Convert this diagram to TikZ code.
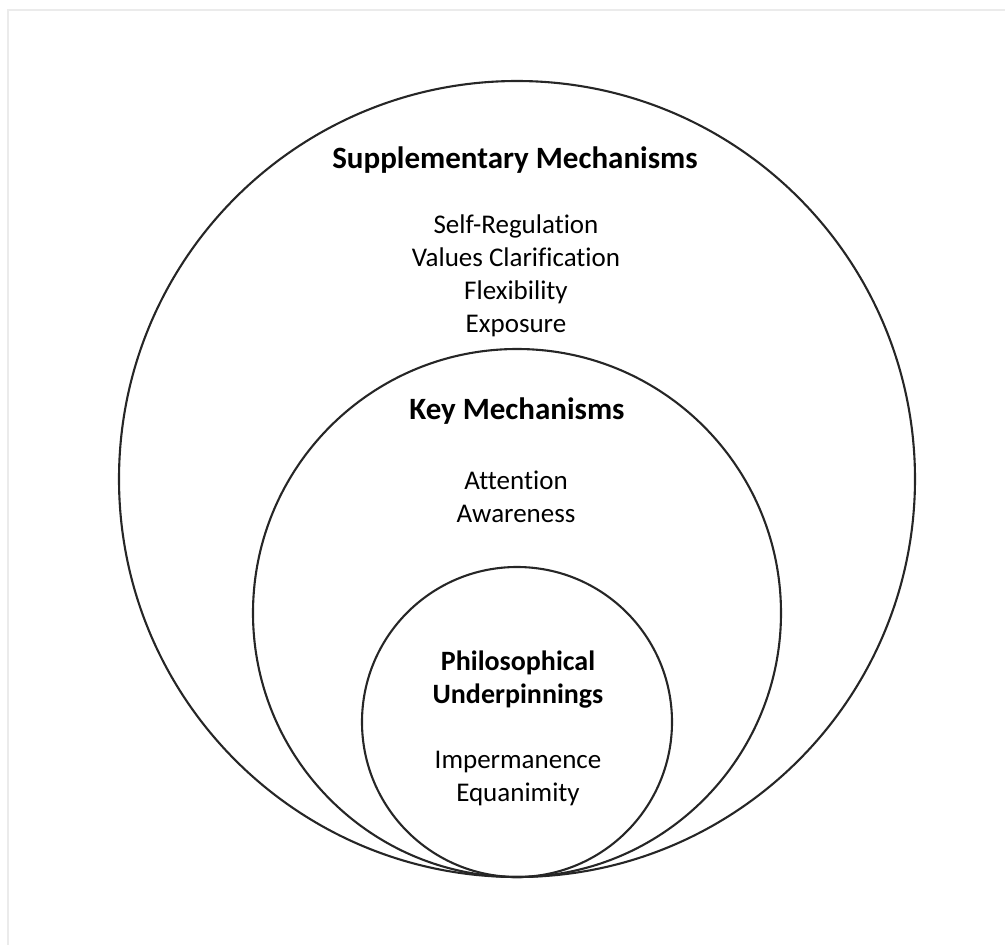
\documentclass[tikz,border=0pt]{standalone}
\usepackage{fontspec}
\setmainfont[Ligatures=NoCommon]{Carlito}
\begin{document}
\begin{tikzpicture}[x=1pt,y=-1pt,
  ring/.style={draw=black!85, line width=2.1pt, circle, inner sep=0pt, fill=none},
  titletext/.style={font=\fontsize{31}{33}\selectfont\bfseries, align=center, inner sep=0pt},
  smalltitle/.style={font=\fontsize{28}{33}\selectfont\bfseries, align=center, inner sep=0pt},
  itemtext/.style={font=\fontsize{27}{33}\selectfont, align=center, inner sep=0pt}]
\useasboundingbox (0,0) rectangle (1005,945);
\draw[black!8, line width=2pt] (8,945) -- (8,10) -- (1005,10);
\node[ring, minimum size=796pt] (outer) at (517,479) {};
\node[ring, minimum size=528pt] (middle) at (517,613) {};
\node[ring, minimum size=310pt] (inner) at (517,722) {};
\node[titletext] (suptitle) at (515,160) {Supplementary Mechanisms};
\node[itemtext] (supitems) at (516,276) {Self-Regulation\\Values Clarification\\Flexibility\\Exposure};
\node[titletext] (keytitle) at (517,411) {Key Mechanisms};
\node[itemtext] (keyitems) at (516,497) {Attention\\Awareness};
\node[smalltitle] (philtitle) at (518,680) {Philosophical\\Underpinnings};
\node[itemtext] (philitems) at (518,779) {Impermanence\\Equanimity};
\end{tikzpicture}
\end{document}
